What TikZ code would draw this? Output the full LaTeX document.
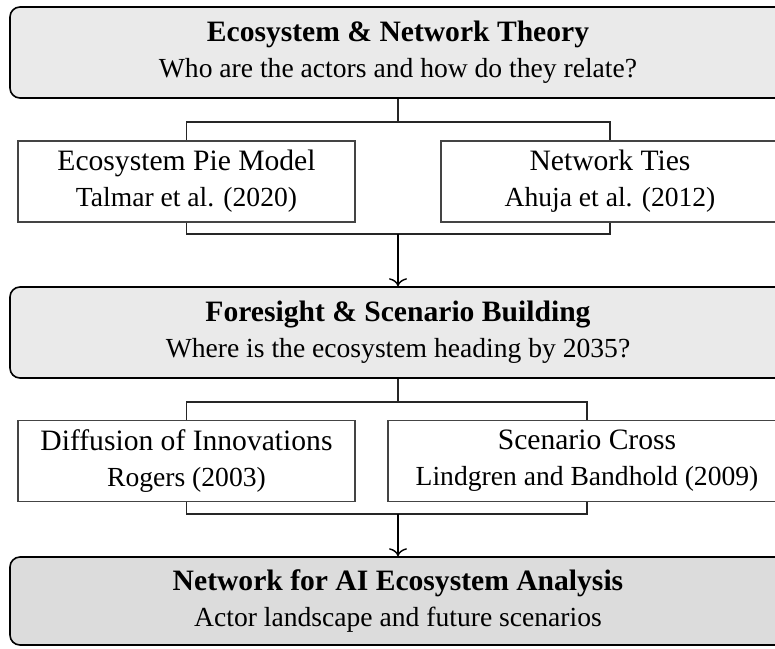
\documentclass[tikz,border=0pt]{standalone}
\usepackage{fontspec}
\setmainfont{Liberation Serif}
\usetikzlibrary{arrows.meta}

\definecolor{stagefill}{HTML}{EAEAEA}
\definecolor{resultfill}{HTML}{DCDCDC}
\definecolor{framegray}{HTML}{444444}

\newcommand{\notefont}{\fontsize{27.6}{36}\selectfont}

\tikzset{
  stagebox/.style={draw=black, line width=1.6pt, rounded corners=10pt,
    fill=stagefill, minimum width=776pt, minimum height=91pt,
    align=center, inner sep=0pt},
  resultbox/.style={stagebox, fill=resultfill, minimum height=88pt},
  theorybox/.style={draw=framegray, line width=1.1pt, fill=white,
    minimum height=81pt, align=center, inner sep=0pt},
  link/.style={draw=black!85, line width=1.1pt},
  flow/.style={draw=black, line width=1.4pt,
    -{To[length=8pt,width=18pt,line width=1.4pt]}},
}

\begin{document}
\begin{tikzpicture}[x=1pt, y=-1pt,
  font=\fontsize{29.6}{36}\selectfont]
\useasboundingbox (0,0) rectangle (775,648);

% stage 1
\node[stagebox] (eco) at (398,52.5)
  {\textbf{Ecosystem \& Network Theory}\\{\notefont Who are the actors and how do they relate?}};
\node[theorybox, minimum width=337pt] (pie) at (186.5,181.5)
  {Ecosystem Pie Model\\{\notefont Talmar et al. (2020)}};
\node[theorybox, minimum width=338pt] (ties) at (610,181.5)
  {Network Ties\\{\notefont Ahuja et al. (2012)}};

% stage 2
\node[stagebox] (fore) at (398,332.5)
  {\textbf{Foresight \& Scenario Building}\\{\notefont Where is the ecosystem heading by 2035?}};
\node[theorybox, minimum width=337pt] (diff) at (186.5,461)
  {Diffusion of Innovations\\{\notefont Rogers (2003)}};
\node[theorybox, minimum width=398pt] (cross) at (587,461)
  {Scenario Cross\\{\notefont Lindgren and Bandhold (2009)}};

% result
\node[resultbox] (net) at (398,601)
  {\textbf{Network for AI Ecosystem Analysis}\\{\notefont Actor landscape and future scenarios}};

% branch points
\coordinate (split1) at (398,122);
\coordinate (join1) at (398,234);
\coordinate (split2) at (398,402);
\coordinate (join2) at (398,514);

% stage 1 fan-out and merge
\draw[link] (eco.south) -- (split1);
\draw[link] (split1) -| (pie.north);
\draw[link] (split1) -| (ties.north);
\draw[link] (pie.south) |- (join1);
\draw[link] (ties.south) |- (join1);
\draw[flow] (join1) -- (fore.north);

% stage 2 fan-out and merge
\draw[link] (fore.south) -- (split2);
\draw[link] (split2) -| (diff.north);
\draw[link] (split2) -| (cross.north);
\draw[link] (diff.south) |- (join2);
\draw[link] (cross.south) |- (join2);
\draw[flow] (join2) -- (net.north);
\end{tikzpicture}
\end{document}
